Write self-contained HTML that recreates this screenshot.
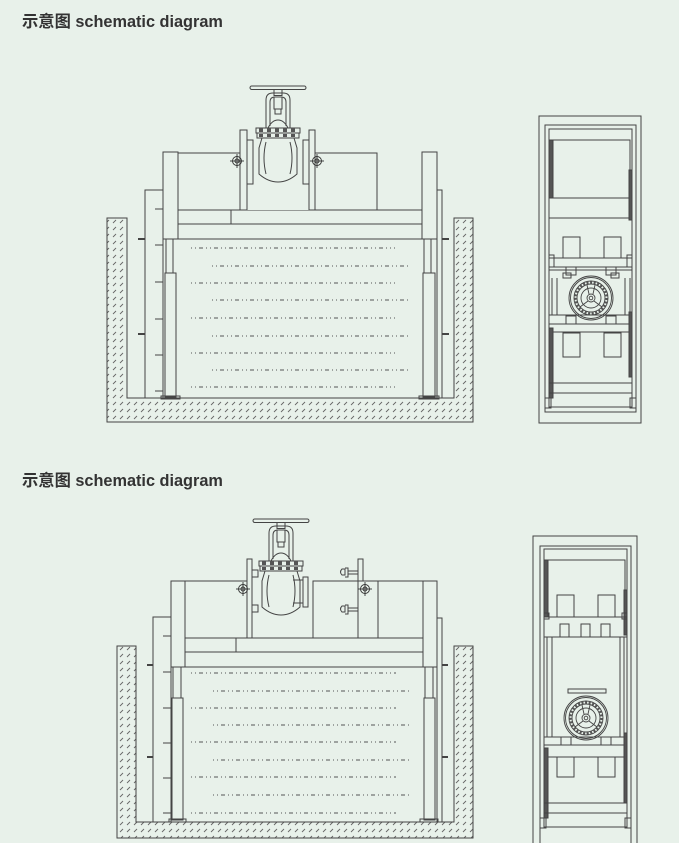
<!DOCTYPE html>
<html><head><meta charset="utf-8"><style>
html,body{margin:0;padding:0;background:#e8f1ea;}
svg{display:block}
text{font-family:"Liberation Sans","Noto Sans CJK SC",sans-serif;font-weight:bold;fill:#333}
</style></head><body>
<svg width="679" height="843" viewBox="0 0 679 843" xmlns="http://www.w3.org/2000/svg">
<defs>
<pattern id="h" width="7" height="7" patternUnits="userSpaceOnUse">
<line x1="1" y1="6" x2="4" y2="3" stroke="#666" stroke-width="0.9"/>
</pattern>
<g id="valve" fill="none" stroke="#444" stroke-width="1">
 <rect x="-28" y="0" width="56" height="3.5" rx="1.7" fill="#e8f1ea"/>
 <rect x="-4" y="3.5" width="8" height="6"/>
 <path d="M-12 42 V14 Q-12 7 -5 7 H5 Q12 7 12 14 V42"/>
 <path d="M-8 40 V16 Q-8 11 -3 11 H3 Q8 11 8 16 V40"/>
 <rect x="-4" y="11" width="8" height="12"/>
 <rect x="-3" y="23" width="6" height="5"/>
 <path d="M-10 42 Q-6 34 0 34 Q6 34 10 42"/>
 <rect x="-22" y="42" width="44" height="5"/>
 <rect x="-21" y="47" width="42" height="5"/>
 <g fill="#555" stroke="none">
  <rect x="-19" y="42" width="4" height="4"/><rect x="-11" y="42" width="4" height="4"/><rect x="-3" y="42" width="4" height="4"/><rect x="5" y="42" width="4" height="4"/><rect x="13" y="42" width="4" height="4"/>
  <rect x="-19" y="48" width="4" height="3"/><rect x="-11" y="48" width="4" height="3"/><rect x="-3" y="48" width="4" height="3"/><rect x="5" y="48" width="4" height="3"/><rect x="13" y="48" width="4" height="3"/>
 </g>
 <path d="M-16 52 L-19 62 V88 Q-10 96 0 96 Q10 96 19 88 V62 L16 52"/>
 <path d="M-12 56 Q-16 72 -12 88 M12 56 Q16 72 12 88"/>
</g>
<g id="cross" fill="none" stroke="#333" stroke-width="0.9">
 <circle r="4.5"/><circle r="2"/><line x1="-7" y1="0" x2="7" y2="0"/><line x1="0" y1="-7" x2="0" y2="7"/>
</g>
<g id="wheel" fill="none" stroke="#444" stroke-width="0.9">
 <circle r="22"/><circle r="20.5"/><circle r="17"/><circle r="14"/><circle r="10"/><circle r="4"/><circle r="1.8"/>
 <circle r="15.5" stroke-dasharray="2 1.6" stroke-width="2.5" stroke="#555"/>
 <path d="M-2 -4 L-4 -13 M2 -4 L4 -13 M3 3 L11 9 M-3 3 L-11 9" />
</g>
</defs>

<text x="22" y="27" font-size="16.3">示意图 schematic diagram</text>
<text x="22" y="486" font-size="16.3">示意图 schematic diagram</text>

<!-- ===== TOP FRONT VIEW ===== -->
<g fill="none" stroke="#444" stroke-width="1">
 <path d="M107 218 H127 V398 H454 V218 H473 V422 H107 Z" fill="url(#h)"/>
 <rect x="145" y="190" width="18" height="208"/>
 <rect x="437" y="190" width="5" height="208"/>
 <rect x="178" y="153" width="199" height="57"/>
 <rect x="231" y="210" width="191" height="14" fill="#e8f1ea"/>
 <rect x="178" y="224" width="244" height="15" fill="#e8f1ea"/>
 <rect x="163" y="152" width="15" height="87" fill="#e8f1ea"/>
 <rect x="422" y="152" width="15" height="87" fill="#e8f1ea"/>
 <rect x="240" y="130" width="7" height="80" fill="#e8f1ea"/>
 <rect x="309" y="130" width="6" height="80" fill="#e8f1ea"/>
 <rect x="247" y="140" width="62" height="70" fill="#e8f1ea" stroke="none"/>
 <line x1="247" y1="210" x2="247" y2="140"/><line x1="309" y1="210" x2="309" y2="140"/>
 <rect x="247" y="140" width="6" height="44"/><rect x="303" y="140" width="6" height="44"/>
 <rect x="166" y="239" width="7" height="34"/>
 <rect x="165" y="273" width="11" height="124"/>
 <rect x="161" y="396" width="19" height="3"/>
 <rect x="424" y="239" width="7" height="34"/>
 <rect x="423" y="273" width="12" height="124"/>
 <rect x="419" y="396" width="20" height="3"/>
 <path d="M155 209H163M155 245H163M155 282H163M155 319H163M155 355H163M155 391H163"/>
 <path d="M138 239H145M138 334H145M442 239H449M442 334H449" stroke-width="2"/>
 <g stroke="#555" stroke-dasharray="1 3 1 3 4 3">
  <path d="M191 248H395M212 266H410M191 283H395M212 300H410M191 318H395M212 336H410M191 353H395M212 370H410M191 387H395"/>
 </g>
</g>
<use href="#valve" x="278" y="86"/>
<use href="#cross" x="237" y="161"/>
<use href="#cross" x="317" y="161"/>

<!-- ===== TOP SIDE VIEW ===== -->
<g fill="none" stroke="#444" stroke-width="1">
 <rect x="539" y="116" width="102" height="307"/>
 <rect x="545" y="125" width="91" height="287"/>
 <rect x="549" y="129" width="83" height="278"/>
 <rect x="552" y="140" width="78" height="58"/>
 <rect x="549" y="198" width="83" height="20"/>
 <rect x="549" y="140" width="4" height="58" fill="#555"/>
 <rect x="629" y="170" width="3" height="50" fill="#555"/>
 <rect x="563" y="237" width="17" height="21"/>
 <rect x="604" y="237" width="17" height="21"/>
 <rect x="549" y="258" width="83" height="9"/>
 <rect x="549" y="255" width="5" height="12"/><rect x="627" y="255" width="5" height="12"/>
 <line x1="549" y1="270" x2="632" y2="270"/>
 <rect x="566" y="267" width="10" height="8"/><rect x="606" y="267" width="10" height="8"/>
 <rect x="563" y="273" width="8" height="5"/><rect x="611" y="273" width="8" height="5"/>
 <path d="M552 278V315M557 278V315M625 278V315M630 278V315"/>
 <line x1="549" y1="315" x2="632" y2="315"/>
 <rect x="566" y="316" width="10" height="8"/><rect x="606" y="316" width="10" height="8"/>
 <rect x="549" y="324" width="83" height="8"/>
 <rect x="549" y="328" width="4" height="70" fill="#555"/>
 <rect x="629" y="312" width="3" height="65" fill="#555"/>
 <rect x="563" y="333" width="17" height="24"/>
 <rect x="604" y="333" width="17" height="24"/>
 <rect x="549" y="383" width="83" height="10"/>
 <rect x="545" y="398" width="6" height="10"/><rect x="630" y="398" width="6" height="10"/>
</g>
<use href="#wheel" x="591" y="298"/>

<!-- ===== BOTTOM FRONT VIEW ===== -->
<g fill="none" stroke="#444" stroke-width="1">
 <path d="M117 646 H136 V822 H454 V646 H473 V838 H117 Z" fill="url(#h)"/>
 <rect x="153" y="617" width="18" height="205"/>
 <rect x="437" y="618" width="5" height="204"/>
 <rect x="185" y="581" width="62" height="57"/>
 <rect x="313" y="581" width="124" height="57"/>
 <path d="M358 581V638M378 581V638"/>
 <rect x="236" y="638" width="187" height="14" fill="#e8f1ea"/>
 <rect x="185" y="652" width="238" height="15" fill="#e8f1ea"/>
 <rect x="171" y="581" width="14" height="86" fill="#e8f1ea"/>
 <rect x="423" y="581" width="14" height="86" fill="#e8f1ea"/>
 <rect x="247" y="559" width="5" height="79" fill="#e8f1ea"/>
 <rect x="358" y="559" width="5" height="22" fill="#e8f1ea"/>
 <rect x="173" y="667" width="8" height="31"/>
 <rect x="172" y="698" width="11" height="122"/>
 <rect x="169" y="819" width="17" height="3"/>
 <rect x="425" y="667" width="8" height="31"/>
 <rect x="424" y="698" width="11" height="122"/>
 <rect x="420" y="819" width="18" height="3"/>
 <path d="M163 636H171M163 672H171M163 708H171M163 743H171M163 778H171M163 813H171"/>
 <path d="M147 665H153M147 757H153M442 665H448M442 757H448" stroke-width="2"/>
 <g stroke="#555" stroke-dasharray="1 3 1 3 4 3">
  <path d="M191 673H396M213 691H410M191 708H396M213 725H410M191 742H396M213 760H410M191 777H396M213 795H410M191 813H396"/>
 </g>
 <path d="M345 568 h3 v9 h-3 M348 571 h10 M348 574 h10 M342 569 q-3 3 0 6 h3 v-6z" fill="#e8f1ea"/>
 <path d="M345 605 h3 v9 h-3 M348 608 h10 M348 611 h10 M342 606 q-3 3 0 6 h3 v-6z" fill="#e8f1ea"/>
 <rect x="252" y="570" width="6" height="7" fill="#e8f1ea"/>
 <rect x="252" y="605" width="6" height="7" fill="#e8f1ea"/>
 <rect x="303" y="577" width="5" height="30" fill="#e8f1ea"/>
 <path d="M293 580 H303 M293 603 H303"/>
</g>
<use href="#valve" x="281" y="519"/>
<use href="#cross" x="243" y="589"/>
<use href="#cross" x="365" y="589"/>

<!-- ===== BOTTOM SIDE VIEW ===== -->
<g fill="none" stroke="#444" stroke-width="1">
 <path d="M533 843 V536 H637 V843"/>
 <path d="M540 843 V546 H631 V843"/>
 <rect x="544" y="549" width="83" height="278"/>
 <rect x="547" y="560" width="78" height="57"/>
 <rect x="544" y="560" width="4" height="57" fill="#555"/>
 <rect x="624" y="590" width="3" height="45" fill="#555"/>
 <rect x="557" y="595" width="17" height="22"/>
 <rect x="598" y="595" width="17" height="22"/>
 <rect x="544" y="617" width="83" height="20"/>
 <rect x="544" y="613" width="5" height="6"/><rect x="622" y="613" width="5" height="6"/>
 <rect x="560" y="624" width="9" height="13"/><rect x="581" y="624" width="9" height="13"/><rect x="601" y="624" width="9" height="13"/>
 <path d="M547 637V737M552 637V737M620 637V737M624 637V737"/>
 <rect x="568" y="689" width="38" height="4"/>
 <line x1="544" y1="737" x2="627" y2="737"/>
 <rect x="561" y="737" width="10" height="8"/><rect x="601" y="737" width="10" height="8"/>
 <rect x="544" y="745" width="83" height="12"/>
 <rect x="544" y="748" width="4" height="70" fill="#555"/>
 <rect x="624" y="733" width="3" height="70" fill="#555"/>
 <rect x="557" y="757" width="17" height="20"/>
 <rect x="598" y="757" width="17" height="20"/>
 <rect x="544" y="803" width="83" height="10"/>
 <rect x="540" y="818" width="6" height="10"/><rect x="625" y="818" width="6" height="10"/>
</g>
<use href="#wheel" x="586" y="718"/>
</svg>
</body></html>
